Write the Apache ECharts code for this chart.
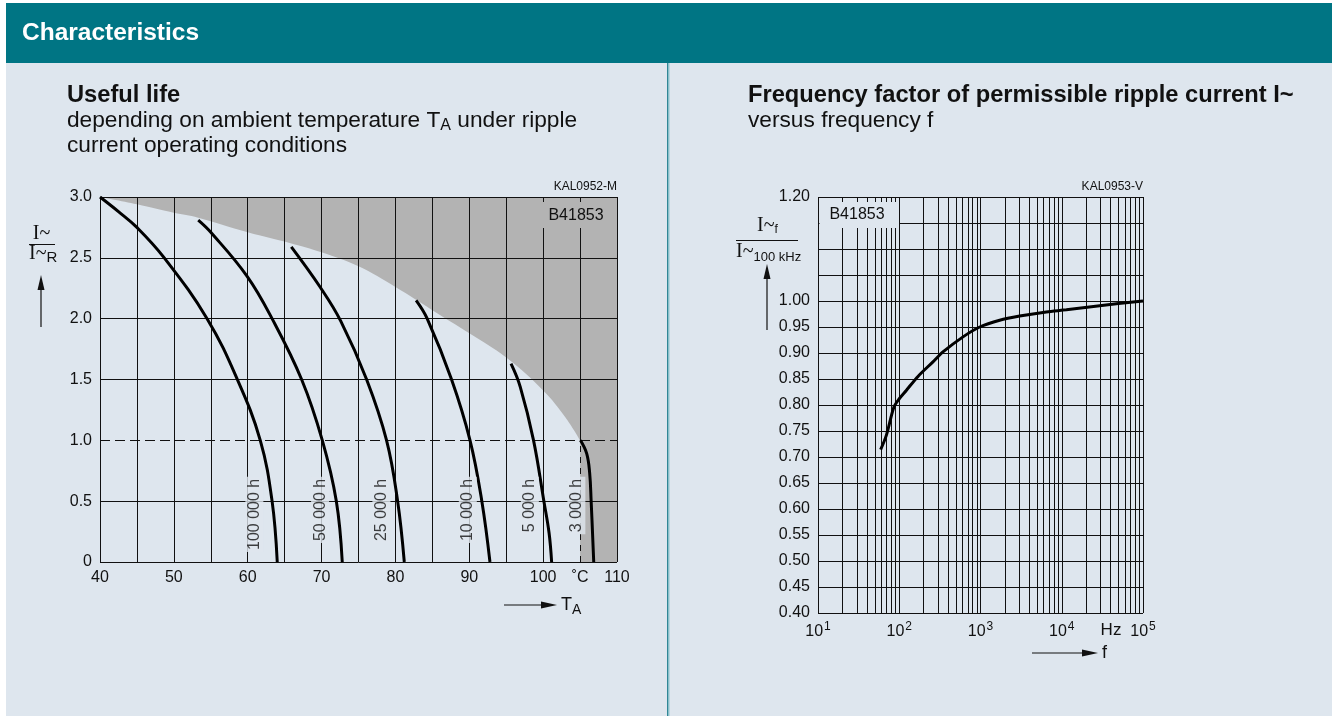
<!DOCTYPE html>
<html>
<head>
<meta charset="utf-8">
<script src="https://cdn.jsdelivr.net/npm/echarts@6/dist/echarts.min.js"></script>
<style>
  html, body { margin: 0; padding: 0; background: #fff; }
  #main { width: 1332px; height: 716px; }
</style>
</head>
<body>
<div id="main"></div>
<script>
// useful life curves: [T_A in degC, I~ / I~R]
const life100k = [[40, 3.0], [42.5, 2.88], [45, 2.75], [48.7, 2.5], [54.5, 2.0], [58.6, 1.5], [61.7, 1.0], [63.3, 0.5], [64.0, 0]]
const life50k = [[53.3, 2.81], [55, 2.71], [59.9, 2.35], [63.3, 2.0], [67.3, 1.5], [70.1, 1.0], [72.0, 0.5], [72.8, 0]]
const life25k = [[65.9, 2.59], [69.8, 2.26], [72.6, 1.98], [76.1, 1.5], [78.8, 1.0], [80.3, 0.5], [81.2, 0]]
const life10k = [[82.8, 2.15], [84.3, 2.0], [87.6, 1.5], [90.1, 1.0], [91.7, 0.5], [92.8, 0]]
const life5k = [[95.65, 1.63], [96.9, 1.44], [98.7, 1.0], [100.1, 0.5], [100.8, 0.24], [101.15, 0]]
const life3k = [[105.05, 1.0], [105.9, 0.89], [106.3, 0.73], [106.5, 0.5], [106.85, 0]]
const lifeNames = ['100 000 h', '50 000 h', '25 000 h', '10 000 h', '5 000 h', '3 000 h']
// border of the grey (not permitted) region
const limitCurve = [[40, 3.0], [45, 2.94], [50, 2.87], [53.3, 2.83], [60, 2.71], [65.8, 2.62], [70, 2.545], [75, 2.43], [80, 2.26], [85, 2.07], [90, 1.88], [95, 1.68], [100, 1.41], [103, 1.19], [105, 1.0]]
const limitBand = [[105, 0], [110, 0]]

// frequency factor curve
const freqHz = [59, 69.5, 86, 100, 122, 170, 260, 345, 609, 977, 1722, 3033, 6460, 11400, 29300, 100000]
const freqFactor = [0.714, 0.742, 0.796, 0.812, 0.828, 0.855, 0.883, 0.902, 0.931, 0.950, 0.963, 0.971, 0.979, 0.983, 0.991, 1.000]
const minorFreqs = [20, 30, 40, 50, 60, 70, 80, 90, 200, 300, 400, 500, 600, 700, 800, 900,
  2000, 3000, 4000, 5000, 6000, 7000, 8000, 9000, 20000, 30000, 40000, 50000, 60000, 70000, 80000, 90000]

const panel = '#dee6ee'
const shade = '#b3b3b3'
const ink = '#111'
const font = '"Liberation Sans", Arial, sans-serif'
const serif = '"Liberation Serif", "Times New Roman", serif'

const chart = echarts.init(document.getElementById('main'))

// split line colours: hide the line at 105 degC and at 1.0, drawn again below
const tempLineColors = []
for (let t = 40; t <= 110; t += 5) tempLineColors.push(t === 105 ? 'rgba(0,0,0,0)' : ink)
const ratioLineColors = [ink, ink, 'rgba(0,0,0,0)', ink, ink, ink, ink]

const tickLabel = { fontSize: 16, color: ink, fontFamily: font, margin: 8 }

const curveSeries = (data) => ({
  type: 'line',
  xAxisIndex: 0,
  yAxisIndex: 0,
  data,
  smooth: 0.4,
  showSymbol: false,
  silent: true,
  z: 6,
  lineStyle: { color: '#000', width: 3 },
})

const measureCtx = document.createElement('canvas').getContext('2d')
const measure = (str, f) => { measureCtx.font = f; return measureCtx.measureText(str).width }

const text = (x, y, str, extra) => ({
  type: 'text',
  x, y, z: 30, silent: true,
  style: Object.assign({ text: str, fill: ink, font: '16px ' + font, textVerticalAlign: 'middle' }, extra || {}),
})
// main text followed by a lowered subscript (and optional tail)
const withSub = (x, y, main, mainFont, subStr, subFont, drop, tail) => {
  const w = measure(main, mainFont)
  const ws = measure(subStr, subFont)
  const els = [text(x, y, main, { font: mainFont }), text(x + w, y + drop, subStr, { font: subFont })]
  if (tail) els.push(text(x + w + ws, y, tail, { font: mainFont }))
  return els
}

const titleFont = 'bold 23.7px ' + font
const bodyFont = '22.7px ' + font

chart.setOption({
  backgroundColor: '#fff',
  animation: false,
  grid: [
    { left: 100, top: 197, width: 517, height: 365 },
    { left: 818, top: 197, width: 325, height: 416 },
  ],
  xAxis: [
    {
      gridIndex: 0, type: 'value', min: 40, max: 110, interval: 5, z: 3,
      axisLine: { show: false }, axisTick: { show: false },
      splitLine: { show: true, lineStyle: { color: tempLineColors, width: 1 } },
      axisLabel: Object.assign({}, tickLabel, {
        formatter: v => (v === 105 ? '˚C' : (v % 10 === 0 ? String(v) : '')),
      }),
    },
    {
      gridIndex: 1, type: 'log', logBase: 10, min: 10, max: 100000, z: 3,
      axisLine: { show: false }, axisTick: { show: false },
      splitLine: { show: true, lineStyle: { color: ink, width: 1 } },
      axisLabel: Object.assign({}, tickLabel, {
        formatter: v => '10{s|' + Math.round(Math.log10(v)) + '}',
        rich: { s: { fontSize: 12, fontFamily: font, color: ink, padding: [0, 0, 9, 1] } },
      }),
    },
  ],
  yAxis: [
    {
      gridIndex: 0, type: 'value', min: 0, max: 3, interval: 0.5, z: 3,
      axisLine: { show: false }, axisTick: { show: false },
      splitLine: { show: true, lineStyle: { color: ratioLineColors, width: 1 } },
      axisLabel: Object.assign({}, tickLabel, { formatter: v => (v === 0 ? '0' : v.toFixed(1)) }),
    },
    {
      gridIndex: 1, type: 'value', min: 0.4, max: 1.2, interval: 0.05, z: 3,
      axisLine: { show: false }, axisTick: { show: false },
      splitLine: { show: true, lineStyle: { color: ink, width: 1 } },
      axisLabel: Object.assign({}, tickLabel, {
        formatter: v => (v > 1.01 && v < 1.19 ? '' : v.toFixed(2)),
      }),
    },
  ],
  series: [
    {
      type: 'line', xAxisIndex: 0, yAxisIndex: 0, data: limitCurve, smooth: 0.4,
      showSymbol: false, silent: true, z: 1,
      lineStyle: { width: 0 },
      areaStyle: { color: shade, opacity: 1, origin: 'end' },
      markLine: {
        silent: true, symbol: ['none', 'none'], z: 4,
        label: { show: false },
        data: [
          { yAxis: 1.0, lineStyle: { color: ink, width: 1, type: [10, 5] } },
          [{ coord: [105, 1.0], lineStyle: { color: ink, width: 1, type: 'solid' } }, { coord: [105, 3.0] }],
          [{ coord: [105, 0], lineStyle: { color: ink, width: 1, type: [6, 5] } }, { coord: [105, 1.0] }],
        ],
      },
    },
    {
      type: 'line', xAxisIndex: 0, yAxisIndex: 0, data: limitBand,
      showSymbol: false, silent: true, z: 1,
      lineStyle: { width: 0 },
      areaStyle: { color: shade, opacity: 1, origin: 'end' },
    },
    curveSeries(life100k),
    curveSeries(life50k),
    curveSeries(life25k),
    curveSeries(life10k),
    curveSeries(life5k),
    curveSeries(life3k),
    {
      type: 'scatter', xAxisIndex: 0, yAxisIndex: 0, symbolSize: 0, silent: true, z: 7,
      data: [
        { name: lifeNames[0], value: [60.9, 0.70] },
        { name: lifeNames[1], value: [69.8, 0.70] },
        { name: lifeNames[2], value: [78.1, 0.70] },
        { name: lifeNames[3], value: [89.8, 0.70] },
        { name: lifeNames[4], value: [98.2, 0.70] },
        { name: lifeNames[5], value: [104.5, 0.70] },
      ],
      label: {
        show: true, position: 'inside', rotate: 90, align: 'right', verticalAlign: 'middle',
        formatter: p => p.name, fontSize: 16, color: ink, fontFamily: font,
        backgroundColor: panel, padding: [1, 2],
      },
    },
    {
      type: 'line', xAxisIndex: 1, yAxisIndex: 1,
      data: freqHz.map((f, i) => [f, freqFactor[i]]),
      smooth: 0.3, showSymbol: false, silent: true, z: 6,
      lineStyle: { color: '#000', width: 3 },
      markLine: {
        silent: true, symbol: ['none', 'none'], z: 4,
        label: { show: false },
        lineStyle: { color: ink, width: 1, type: 'solid' },
        data: minorFreqs.map(f => ({ xAxis: f })),
      },
    },
  ],
  graphic: [
    // header and panels
    { type: 'rect', z: -10, silent: true, shape: { x: 6, y: 3, width: 1326, height: 60 }, style: { fill: '#007584' } },
    { type: 'rect', z: -10, silent: true, shape: { x: 6, y: 63, width: 1326, height: 653 }, style: { fill: panel } },
    { type: 'rect', z: -9, silent: true, shape: { x: 667, y: 63, width: 1.5, height: 653 }, style: { fill: '#2f8796' } },
    { type: 'rect', z: -9, silent: true, shape: { x: 668.5, y: 63, width: 1, height: 653 }, style: { fill: '#8ec5cf' } },
    text(22, 33, 'Characteristics', { fill: '#fff', font: 'bold 24.5px ' + font }),

    // left titles
    text(67, 95, 'Useful life', { font: titleFont }),
    ...withSub(67, 121, 'depending on ambient temperature T', bodyFont, 'A', '16px ' + font, 5, ' under ripple'),
    text(67, 146, 'current operating conditions', { font: bodyFont }),
    text(617, 187, 'KAL0952-M', { font: '12px ' + font, textAlign: 'right' }),

    // right titles
    text(748, 95, 'Frequency factor of permissible ripple current I~', { font: titleFont }),
    text(748, 121, 'versus frequency f', { font: bodyFont }),
    text(1143, 187, 'KAL0953-V', { font: '12px ' + font, textAlign: 'right' }),

    // type boxes
    { type: 'rect', z: 20, silent: true, shape: { x: 539, y: 202, width: 73, height: 26 }, style: { fill: shade } },
    text(576, 216, 'B41853', { textAlign: 'center' }),
    { type: 'rect', z: 20, silent: true, shape: { x: 819.5, y: 202, width: 79.5, height: 26 }, style: { fill: panel } },
    text(857, 215, 'B41853', { textAlign: 'center' }),

    // left y axis name
    text(41.5, 234, 'I~', { font: '20px ' + serif, textAlign: 'center' }),
    { type: 'line', z: 30, silent: true, shape: { x1: 29, y1: 244.5, x2: 55, y2: 244.5 }, style: { stroke: ink, lineWidth: 1 } },
    ...withSub(29, 254, 'I~', '20px ' + serif, 'R', '15px ' + font, 4),
    { type: 'line', z: 30, silent: true, shape: { x1: 41, y1: 327, x2: 41, y2: 286 }, style: { stroke: ink, lineWidth: 1.2 } },
    { type: 'polygon', z: 30, silent: true, shape: { points: [[41, 275], [37.5, 290], [44.5, 290]] }, style: { fill: ink } },

    // left x axis name
    { type: 'line', z: 30, silent: true, shape: { x1: 504, y1: 605, x2: 545, y2: 605 }, style: { stroke: ink, lineWidth: 1.2 } },
    { type: 'polygon', z: 30, silent: true, shape: { points: [[557, 605], [541, 601.5], [541, 608.5]] }, style: { fill: ink } },
    ...withSub(561, 605, 'T', '18px ' + font, 'A', '14px ' + font, 5),

    // right y axis name
    ...withSub(757, 226, 'I~', '20px ' + serif, 'f', '12px ' + font, 4),
    { type: 'line', z: 30, silent: true, shape: { x1: 736, y1: 240.5, x2: 798, y2: 240.5 }, style: { stroke: ink, lineWidth: 1 } },
    ...withSub(736, 252, 'I~', '20px ' + serif, '100 kHz', '13px ' + font, 5),
    { type: 'line', z: 30, silent: true, shape: { x1: 767, y1: 330, x2: 767, y2: 276 }, style: { stroke: ink, lineWidth: 1.2 } },
    { type: 'polygon', z: 30, silent: true, shape: { points: [[767, 264], [763.5, 279], [770.5, 279]] }, style: { fill: ink } },

    // right x axis name
    text(1111, 630, 'Hz', { textAlign: 'center', font: '17px ' + font }),
    { type: 'line', z: 30, silent: true, shape: { x1: 1032, y1: 653, x2: 1085, y2: 653 }, style: { stroke: ink, lineWidth: 1.2 } },
    { type: 'polygon', z: 30, silent: true, shape: { points: [[1098, 653], [1082, 649.5], [1082, 656.5]] }, style: { fill: ink } },
    text(1102, 653, 'f', { font: '18px ' + font }),
  ],
})
</script>
</body>
</html>
